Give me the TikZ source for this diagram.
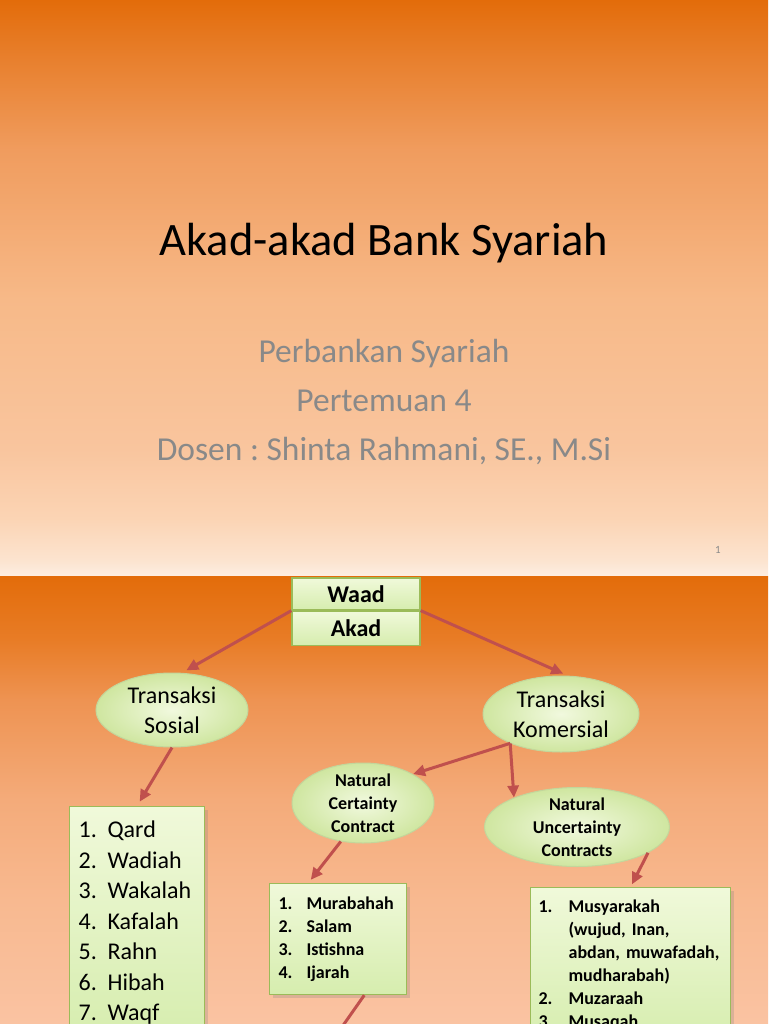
\documentclass[tikz,border=0pt]{standalone}
\usepackage{fontspec}
\setmainfont{Carlito}
\usetikzlibrary{arrows.meta,positioning,shapes.geometric,shadows}
\frenchspacing

\definecolor{slideorange}{HTML}{E36C0A}
\definecolor{subgray}{HTML}{898989}
\definecolor{arrowred}{HTML}{C0504D}
\definecolor{boxline}{HTML}{9BBB59}
\definecolor{boxtop}{HTML}{F0F9DA}
\definecolor{boxbottom}{HTML}{D6EDAE}
\definecolor{bubblein}{HTML}{F1F9DE}
\definecolor{bubbleout}{HTML}{CFE6A0}
\definecolor{peachA}{HTML}{FDEEE2}
\definecolor{peachB}{HTML}{FCE4D0}
\definecolor{peachC}{HTML}{FBD4B4}
\definecolor{peachD}{HTML}{F9C59E}
\definecolor{peachE}{HTML}{F7B988}
\definecolor{peachF}{HTML}{F09C5E}
\definecolor{peachG}{HTML}{E8802E}
\definecolor{peachH}{HTML}{FAC3A2}
\definecolor{peachI}{HTML}{F8B990}
\definecolor{peachJ}{HTML}{F4AB7A}
\definecolor{peachK}{HTML}{EE9352}
\definecolor{peachL}{HTML}{E87C26}

\pgfdeclareverticalshading{slideone}{100bp}{color(0bp)=(peachA); color(25bp)=(peachA); color(26.3bp)=(peachB); color(30bp)=(peachC); color(36bp)=(peachD); color(49bp)=(peachE); color(62bp)=(peachF); color(69.8bp)=(peachG); color(75bp)=(slideorange); color(100bp)=(slideorange)}
\pgfdeclareverticalshading{slidetwo}{100bp}{color(0bp)=(peachH); color(25bp)=(peachH); color(38.8bp)=(peachI); color(50bp)=(peachJ); color(61.2bp)=(peachK); color(67.9bp)=(peachL); color(75bp)=(slideorange); color(100bp)=(slideorange)}

\begin{document}
\begin{tikzpicture}[x=1pt,y=-1pt,
  keybox/.style={draw=boxline,line width=1.2pt,top color=boxtop,bottom color=boxbottom,minimum width=128pt,inner sep=0pt,font=\fontsize{24}{28}\selectfont\bfseries},
  bubble/.style={ellipse,draw=boxline!60,line width=1pt,inner color=bubblein,outer color=bubbleout,align=center,inner sep=0pt},
  listbox/.style={draw=boxline,line width=1.2pt,top color=boxtop,bottom color=boxbottom,anchor=north west,inner xsep=9pt,drop shadow={opacity=0.25,shadow xshift=3pt,shadow yshift=-3pt}},
  link/.style={draw=arrowred,line width=3pt,-{Triangle[length=12pt,width=11pt]}}]
\useasboundingbox (0,0) rectangle (768,1024);
\clip (0,0) rectangle (768,1024);
\shade[shading=slideone] (0,0) rectangle (768,576);
\shade[shading=slidetwo] (0,576) rectangle (768,1024);

% title slide
\node[anchor=base,font=\fontsize{46.5}{56}\selectfont] (title) at (384,255) {Akad-akad Bank Syariah};
\node[anchor=base,text=subgray,font=\fontsize{33.5}{40}\selectfont] (course) at (384,362) {Perbankan Syariah};
\node[anchor=base,text=subgray,font=\fontsize{33.5}{40}\selectfont] (meeting) at (384,411) {Pertemuan 4};
\node[anchor=base,text=subgray,font=\fontsize{33.5}{40}\selectfont] (lecturer) at (384,460) {Dosen : Shinta Rahmani, SE., M.Si};
\node[anchor=base,text=subgray,font=\fontsize{11}{13}\selectfont] (pagenum) at (718,553) {1};

% akad slide
\node[keybox,minimum height=32pt] (waad) at (356,594) {Waad};
\node[keybox,minimum height=34pt,below=0pt of waad] (akad) {Akad};

\node[bubble,minimum width=152pt,minimum height=74pt,font=\fontsize{24}{30}\selectfont] (sosial) at (172,710) {Transaksi\\Sosial};
\node[bubble,minimum width=156pt,minimum height=76pt,font=\fontsize{24}{30}\selectfont] (komersial) at (561,714) {Transaksi\\Komersial};
\node[bubble,minimum width=142pt,minimum height=80pt,inner ysep=-4pt,font=\fontsize{18}{23}\selectfont\bfseries] (certain) at (363,803) {Natural\\Certainty\\Contract};
\node[bubble,minimum width=185pt,minimum height=79pt,inner ysep=-4pt,font=\fontsize{18}{23}\selectfont\bfseries] (uncertain) at (577,827) {Natural\\Uncertainty\\Contracts};

\node[listbox,text width=117pt,inner ysep=10pt,font=\fontsize{24}{30.5}\selectfont] (qard) at (69,806) {%
  \begin{tabular}{@{}p{29pt}@{}l@{}}
  1. & Qard\\ 2. & Wadiah\\ 3. & Wakalah\\ 4. & Kafalah\\ 5. & Rahn\\ 6. & Hibah\\ 7. & Waqf
  \end{tabular}};
\node[listbox,text width=119pt,inner ysep=9.5pt,font=\fontsize{18}{23}\selectfont\bfseries] (mura) at (269,883) {%
  \begin{tabular}{@{}p{28pt}@{}l@{}}
  1. & Murabahah\\ 2. & Salam\\ 3. & Istishna\\ 4. & Ijarah
  \end{tabular}};
\node[listbox,text width=184pt,inner xsep=8pt,inner ysep=8.5pt,font=\fontsize{18}{23}\selectfont\bfseries] (musy) at (530,887) {%
  \begin{tabular}{@{}p{30pt}@{}l@{}}
  1. & Musyarakah\\ & (wujud, Inan,\\ & abdan, muwafadah,\\ & mudharabah)\\ 2. & Muzaraah\\ 3. & Musaqah
  \end{tabular}};

\draw[link,shorten >=5pt] (waad.south west) -- (sosial.75);
\draw[link,shorten >=5pt] (waad.south east) -- (komersial.80);
\draw[link,shorten >=5pt] (sosial.south) -- (qard.north);
\draw[link] (komersial.210) -- (certain.30);
\draw[link] (komersial.210) -- (uncertain.155);
\draw[link,shorten >=4pt] (certain.240) -- (mura.118);
\draw[link,shorten >=3pt] (uncertain.340) -- (musy.north);
\coordinate (beyond) at (330,1044);
\draw[link] (mura.295) -- (beyond);
\end{tikzpicture}
\end{document}
